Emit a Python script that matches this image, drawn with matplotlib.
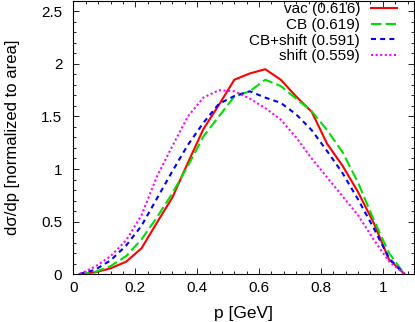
import matplotlib
matplotlib.use("Agg")
import matplotlib.pyplot as plt
from matplotlib.ticker import MultipleLocator

plt.rcParams["font.family"] = ["Liberation Sans", "DejaVu Sans"]

p = [0.02, 0.07, 0.12, 0.17, 0.22, 0.27, 0.32, 0.37, 0.42, 0.47, 0.52,
     0.57, 0.62, 0.67, 0.72, 0.77, 0.82, 0.87, 0.92, 0.97, 1.02, 1.07]

vac = [0.0, 0.016, 0.054, 0.117, 0.245, 0.49, 0.73, 1.06, 1.38, 1.61, 1.85,
       1.91, 1.95, 1.85, 1.69, 1.545, 1.24, 1.03, 0.78, 0.49, 0.14, 0.0]
cb = [0.0, 0.02, 0.075, 0.17, 0.33, 0.54, 0.77, 1.03, 1.31, 1.5, 1.69,
      1.74, 1.85, 1.79, 1.67, 1.55, 1.37, 1.16, 0.87, 0.52, 0.2, 0.0]
cb_shift = [0.0, 0.04, 0.13, 0.27, 0.46, 0.72, 0.98, 1.23, 1.44, 1.62, 1.695,
            1.74, 1.68, 1.63, 1.52, 1.37, 1.17, 0.96, 0.71, 0.44, 0.15, 0.0]
shift = [0.0, 0.07, 0.17, 0.32, 0.56, 0.93, 1.22, 1.5, 1.68, 1.75, 1.74,
         1.67, 1.58, 1.47, 1.3, 1.1, 0.92, 0.74, 0.56, 0.33, 0.12, 0.0]

labels = ["vac (0.616)", "CB (0.619)", "CB+shift (0.591)", "shift (0.559)"]

fig = plt.figure(figsize=(4.15, 3.22), dpi=100)
ax = fig.add_axes([0.177, 0.149, 0.82, 0.848])

ax.plot(p, vac, color="#ff0000", lw=1.5, label=labels[0])
ax.plot(p, cb, color="#00e000", lw=1.5, dashes=(5, 2), label=labels[1])
ax.plot(p, cb_shift, color="#0000ff", lw=1.5, dashes=(2.4, 2), label=labels[2])
ax.plot(p, shift, color="#ff00ff", lw=1.5, dashes=(1, 1.2), label=labels[3])

ax.set_xlim(0, 1.1)
ax.set_ylim(0, 2.6)
ax.set_xticks([0, 0.2, 0.4, 0.6, 0.8, 1.0])
ax.set_xticklabels(["0", "0.2", "0.4", "0.6", "0.8", "1"], fontsize=11)
ax.set_yticks([0, 0.5, 1, 1.5, 2, 2.5])
ax.set_yticklabels(["0", "0.5", "1", "1.5", "2", "2.5"], fontsize=11)
ax.xaxis.set_minor_locator(MultipleLocator(0.04))
ax.yaxis.set_minor_locator(MultipleLocator(0.1))
ax.tick_params(which="both", direction="in", top=True, right=True, width=0.6)
ax.tick_params(which="major", length=4.5)
ax.tick_params(which="minor", length=2.5)
ax.tick_params(axis="x", which="major", pad=5)
ax.tick_params(axis="y", which="major", pad=8)
for s in ax.spines.values():
    s.set_linewidth(0.8)

ax.set_xlabel("p [GeV]", fontsize=12.5, labelpad=8)
ax.set_ylabel("dσ/dp [normalized to area]", fontsize=12, labelpad=15)

ax.legend(loc="upper right", bbox_to_anchor=(0.955, 1.0), frameon=False,
          markerfirst=False, fontsize=11, handlelength=1.7, handletextpad=0.7,
          labelspacing=0.1, borderpad=0.1, borderaxespad=0)

fig.savefig("out.png", dpi=100)
